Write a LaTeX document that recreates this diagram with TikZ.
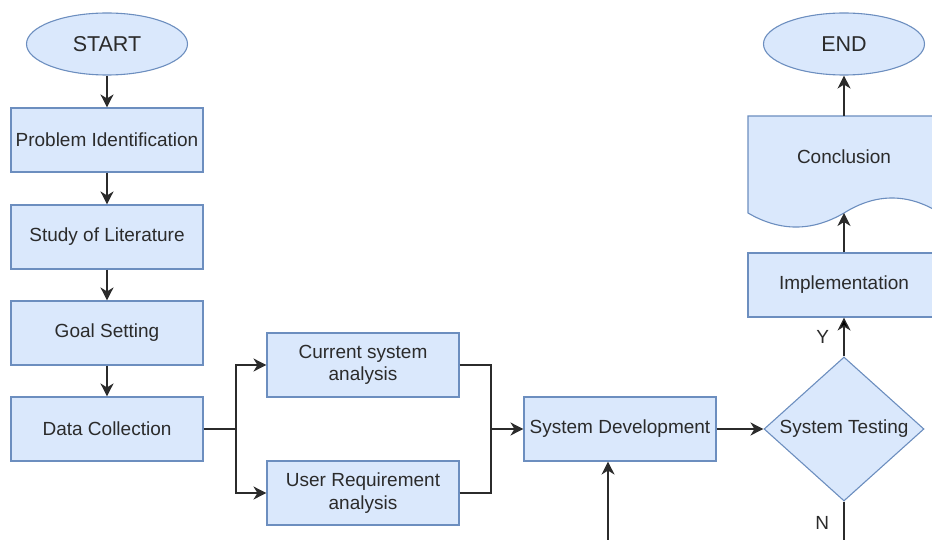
\documentclass[tikz,border=0pt]{standalone}
\usepackage{fontspec}
\setmainfont{Liberation Sans}
\usetikzlibrary{shapes.geometric,arrows.meta}

\definecolor{boxfill}{HTML}{DAE8FC}
\definecolor{boxline}{HTML}{6C8EBF}
\definecolor{ink}{HTML}{2B2B2B}

\begin{document}
\begin{tikzpicture}[x=1pt,y=-1pt,
  >={Stealth[length=13pt,width=13pt,inset=4pt]},
  every node/.style={font=\fontsize{19}{22.5}\selectfont, text=ink},
  block/.style={draw=boxline, fill=boxfill, line width=1.1pt, minimum width=192pt, minimum height=64pt, inner sep=0pt, align=center},
  term/.style={ellipse, draw=boxline, fill=boxfill, line width=1.1pt, minimum width=161pt, minimum height=62pt, inner sep=0pt, font=\fontsize{21.5}{24}\selectfont},
  decide/.style={diamond, draw=boxline, fill=boxfill, line width=1.1pt, minimum width=160pt, minimum height=144pt, aspect=1.1, inner sep=0pt},
  flow/.style={draw=ink, line width=1.3pt}]

 \useasboundingbox (0,0) rectangle (932,540);

 % left column
 \node[term]  (start) at (107,44)  {START};
 \node[block] (prob)  at (107,140) {Problem Identification};
 \node[block] (lit)   at (107,237) {Study of Literature};
 \node[block] (goal)  at (107,333) {Goal Setting};
 \node[block] (data)  at (107,429) {Data Collection};

 % analysis
 \node[block] (cur) at (363,365) {Current system\\analysis};
 \node[block] (usr) at (363,493) {User Requirement\\analysis};

 \node[block]  (dev)  at (620,429) {System Development};
 \node[decide] (test) at (844,429) {System Testing};

 % right column
 \node[block] (impl) at (844,285) {Implementation};
 \draw[draw=boxline, fill=boxfill, line width=1.1pt]
   (748,116) -- (940,116) -- (940,213)
   .. controls (908,193) and (876,193) .. (844,213)
   .. controls (812,231.7) and (780,231.7) .. (748,213) -- cycle;
 \node (conc) at (844,157) {Conclusion};
 \coordinate (conct) at (844,116);
 \coordinate (concb) at (844,213);
 \node[term] (end) at (844,44) {END};

 \coordinate (split) at (236,429);
 \coordinate (join)  at (491,429);
 \coordinate (nend)  at (844,541);
 \coordinate (back)  at (608,541);

 \draw [flow,->] (start) -- (prob);
 \draw [flow,->] (prob) -- (lit);
 \draw [flow,->] (lit) -- (goal);
 \draw [flow,->] (goal) -- (data);

 \draw [flow] (data) -- (split);
 \draw [flow,->] (split) |- (cur);
 \draw [flow,->] (split) |- (usr);
 \draw [flow] (cur) -| (join);
 \draw [flow] (usr) -| (join);
 \draw [flow,->] (join) -- (dev);

 \draw [flow,->] (dev) -- (test);
 \draw [flow,->] (test) edge node [left=11pt] {Y} (impl);
 \draw [flow] (test) edge node [left=11pt, pos=0.55] {N} (nend);
 \draw [flow,->] (back) -- (back |- dev.south);

 \draw [flow,->] (impl) -- (concb);
 \draw [flow,->] (conct) -- (end);

\end{tikzpicture}
\end{document}
